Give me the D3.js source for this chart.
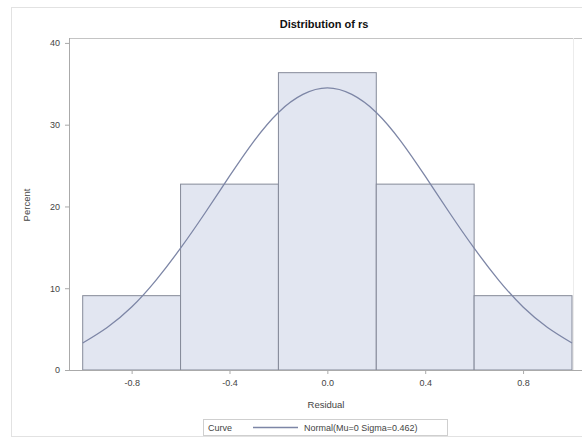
<!DOCTYPE html>
<html>
<head>
<meta charset="utf-8">
<script src="https://cdn.jsdelivr.net/npm/d3@7"></script>
<style>
  body { margin: 0; background: #fff; }
  svg { display: block; font-family: "Liberation Sans", Arial, sans-serif; }
</style>
</head>
<body>
<div id="wrapper"></div>
<script>
// histogram bins (residual) and percent per bin
var binStarts = [-1.0, -0.6, -0.2, 0.2, 0.6];
var binEnds = [-0.6, -0.2, 0.2, 0.6, 1.0];
var binPercent = [9.09, 22.73, 36.36, 22.73, 9.09];

// fitted normal curve
var curveX = [-1.0, -0.9, -0.8, -0.7, -0.6, -0.5, -0.4, -0.3, -0.2, -0.1, 0.0,
              0.1, 0.2, 0.3, 0.4, 0.5, 0.6, 0.7, 0.8, 0.9, 1.0];
var curveY = [3.3, 5.2, 7.7, 11.0, 14.9, 19.2, 23.7, 28.0, 31.5, 33.7, 34.5,
              33.7, 31.5, 28.0, 23.7, 19.2, 14.9, 11.0, 7.7, 5.2, 3.3];

var xTicks = [-0.8, -0.4, 0.0, 0.4, 0.8];
var yTicks = [0, 10, 20, 30, 40];

var width = 582, height = 440;
var plot = { left: 69, top: 38, right: 590, bottom: 370 };

var svg = d3.select('#wrapper').append('svg')
    .attr('width', width)
    .attr('height', height);

// outer border
svg.append('rect')
    .attr('x', 11.5).attr('y', 7.5)
    .attr('width', 600).attr('height', 429)
    .attr('fill', 'none')
    .attr('stroke', '#e2e2e2');

var xScale = d3.scaleLinear()
    .domain([-1, 1])
    .range([82.7, 572]);

var yScale = d3.scaleLinear()
    .domain([0, 40.6])
    .range([plot.bottom, plot.top]);

// title
svg.append('text')
    .attr('x', 324)
    .attr('y', 28)
    .attr('text-anchor', 'middle')
    .style('font-size', '11px')
    .style('font-weight', 'bold')
    .attr('fill', '#111')
    .text('Distribution of rs');

// plot frame
svg.append('line')
    .attr('x1', plot.left).attr('x2', width)
    .attr('y1', plot.top + 0.5).attr('y2', plot.top + 0.5)
    .attr('stroke', '#c4c4c4');
svg.append('line')
    .attr('x1', 573.5).attr('x2', 573.5)
    .attr('y1', plot.top).attr('y2', plot.bottom)
    .attr('stroke', '#ececec');

// bars
var bars = svg.append('g');
bars.selectAll('rect')
    .data(binPercent)
    .enter()
    .append('rect')
    .attr('x', function (d, i) { return xScale(binStarts[i]); })
    .attr('y', function (d) { return yScale(d); })
    .attr('width', function (d, i) { return xScale(binEnds[i]) - xScale(binStarts[i]); })
    .attr('height', function (d) { return yScale(0) - yScale(d); })
    .attr('fill', '#e2e6f1')
    .attr('stroke', '#858a99')
    .attr('stroke-width', 1);

// normal curve
var line = d3.line()
    .x(function (d, i) { return xScale(curveX[i]); })
    .y(function (d) { return yScale(d); })
    .curve(d3.curveNatural);

svg.append('path')
    .datum(curveY)
    .attr('d', line)
    .attr('fill', 'none')
    .attr('stroke', '#7d86a6')
    .attr('stroke-width', 1.3);

// axes
var xAxis = svg.append('g')
    .attr('transform', 'translate(0,' + plot.bottom + ')')
    .call(d3.axisBottom(xScale).tickValues(xTicks).tickSize(4).tickPadding(6)
        .tickFormat(function (d) { return d3.format('.1f')(d).replace('\u2212', '-'); }));
xAxis.select('.domain').remove();
xAxis.append('line')
    .attr('x1', plot.left).attr('x2', width)
    .attr('y1', 0.5).attr('y2', 0.5)
    .attr('stroke', '#aaa');

var yAxis = svg.append('g')
    .attr('transform', 'translate(' + plot.left + ',0)')
    .call(d3.axisLeft(yScale).tickValues(yTicks).tickSize(4).tickPadding(5));
yAxis.select('.domain').remove();
yAxis.append('line')
    .attr('x1', 0.5).attr('x2', 0.5)
    .attr('y1', plot.top).attr('y2', plot.bottom)
    .attr('stroke', '#aaa');

svg.selectAll('.tick line').attr('stroke', '#aaa');
svg.selectAll('.tick text')
    .attr('fill', '#444')
    .style('font-size', '9px')
    .style('font-family', '"Liberation Sans", Arial, sans-serif');

// axis labels
svg.append('text')
    .attr('x', 326)
    .attr('y', 408)
    .attr('text-anchor', 'middle')
    .attr('fill', '#444')
    .style('font-size', '9.5px')
    .text('Residual');

svg.append('text')
    .attr('transform', 'translate(30,205) rotate(-90)')
    .attr('text-anchor', 'middle')
    .attr('fill', '#444')
    .style('font-size', '9.5px')
    .text('Percent');

// legend
var legend = svg.append('g').attr('transform', 'translate(203,419)');
legend.append('rect')
    .attr('x', 0.5).attr('y', 0.5)
    .attr('width', 244).attr('height', 16)
    .attr('fill', '#fff')
    .attr('stroke', '#cfcfcf');
legend.append('text')
    .attr('x', 5).attr('y', 12)
    .attr('fill', '#444')
    .style('font-size', '9px')
    .text('Curve');
legend.append('line')
    .attr('x1', 50).attr('x2', 95)
    .attr('y1', 8.5).attr('y2', 8.5)
    .attr('stroke', '#7d86a6')
    .attr('stroke-width', 1.3);
legend.append('text')
    .attr('x', 101).attr('y', 12)
    .attr('fill', '#444')
    .style('font-size', '9px')
    .text('Normal(Mu=0 Sigma=0.462)');
</script>
</body>
</html>
